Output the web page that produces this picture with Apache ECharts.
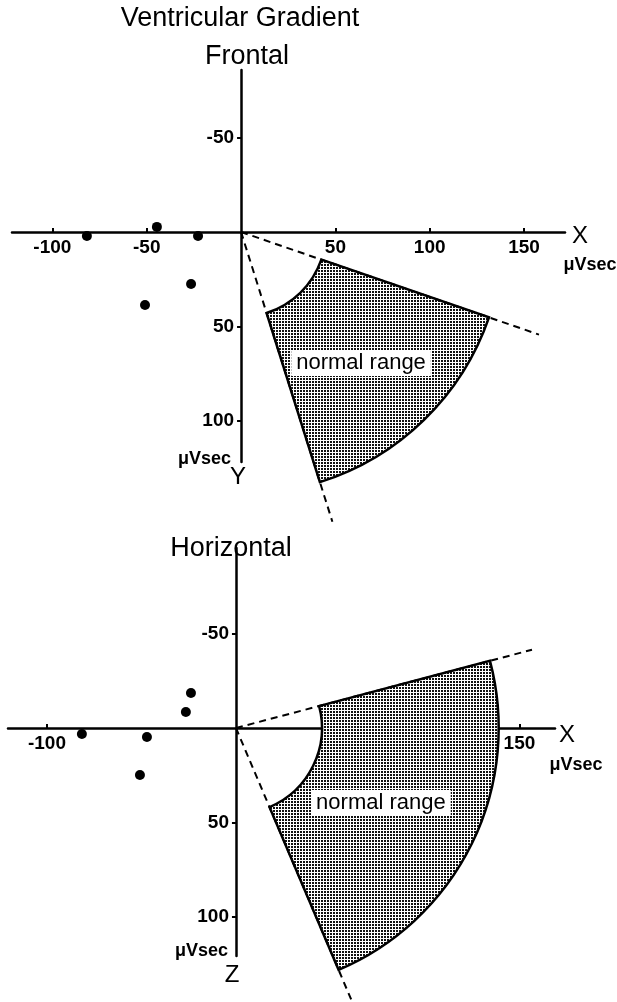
<!DOCTYPE html>
<html>
<head>
<meta charset="utf-8">
<script src="https://cdn.jsdelivr.net/npm/echarts@6/dist/echarts.min.js"></script>
<style>
  html, body { margin: 0; padding: 0; background: #fff; }
  #chart { width: 617px; height: 1002px; }
</style>
</head>
<body>
<div id="chart"></div>
<script>
// ---- data ----
const frontalXTicks = [-100, -50, 50, 100, 150];
const frontalYTicks = [-50, 50, 100];
const horizontalXTicks = [-100, 150];
const horizontalYTicks = [-50, 50, 100];

// frontal plane: X (right), Y (down)
const frontalPoints = [[-44.6, -2.7], [-81.7, 2.1], [-22.8, 2.1], [-26.5, 27.6], [-50.9, 38.7]];
// horizontal plane: X (right), Z (down)
const horizontalPoints = [[-23.8, -18.5], [-26.5, -8.5], [-81.5, 3.2], [-47.1, 4.8], [-50.8, 24.9]];

// normal range: [inner radius, outer radius, start angle deg, end angle deg] (angle measured toward +Y/+Z)
const frontalRange = [45, 139, 19, 72.5];
const horizontalRange = [45.5, 139, -14.8, 67];
// dashed boundary rays: lengths along start / end angle
const frontalRays = [167, 161];
const horizontalRays = [162, 156];
// "normal range" label anchor
const frontalLabelAt = [63.6, 69.4];
const horizontalLabelAt = [76.7, 39.7];

// ---- drawing ----
const FONT = '"Liberation Sans", Arial, sans-serif';

const pat = document.createElement('canvas');
pat.width = 3; pat.height = 3;
const pctx = pat.getContext('2d');
pctx.fillStyle = '#fff'; pctx.fillRect(0, 0, 3, 3);
pctx.fillStyle = '#111'; pctx.fillRect(0, 0, 2, 2);

function makeRangeRender(range, rays, labelAt) {
  return function (params, api) {
    const o = api.coord([0, 0]);
    const r0 = api.size([range[0], 0])[0];
    const r = api.size([range[1], 0])[0];
    const a1 = range[2] * Math.PI / 180;
    const a2 = range[3] * Math.PI / 180;
    const e1 = api.coord([rays[0] * Math.cos(a1), rays[0] * Math.sin(a1)]);
    const e2 = api.coord([rays[1] * Math.cos(a2), rays[1] * Math.sin(a2)]);
    const lp = api.coord(labelAt);
    const dash = { stroke: '#000', lineWidth: 2, lineDash: [7, 5], fill: null };
    return {
      type: 'group',
      children: [
        { type: 'line', shape: { x1: o[0], y1: o[1], x2: e1[0], y2: e1[1] }, style: dash },
        { type: 'line', shape: { x1: o[0], y1: o[1], x2: e2[0], y2: e2[1] }, style: dash },
        {
          type: 'sector',
          shape: { cx: o[0], cy: o[1], r: r, r0: r0, startAngle: a1, endAngle: a2, clockwise: true },
          style: { fill: { image: pat, repeat: 'repeat' }, stroke: '#000', lineWidth: 2.5 }
        },
        {
          type: 'text',
          x: lp[0], y: lp[1],
          style: {
            text: 'normal range', fill: '#000', font: '22px ' + FONT,
            align: 'center', verticalAlign: 'middle',
            backgroundColor: '#fff', padding: [2, 5, 2, 5]
          }
        }
      ]
    };
  };
}

function xAxisCfg(grid, min, max, ticks) {
  return {
    gridIndex: grid, type: 'value', min: min, max: max,
    splitLine: { show: false },
    axisLine: { onZero: true, lineStyle: { color: '#000', width: 2.5 } },
    axisTick: { show: true, customValues: ticks, length: 4, inside: true, lineStyle: { color: '#000', width: 2 } },
    axisLabel: { show: false }
  };
}
function yAxisCfg(grid, min, max, ticks) {
  return {
    gridIndex: grid, type: 'value', min: min, max: max, inverse: true,
    splitLine: { show: false },
    axisLine: { onZero: true, lineStyle: { color: '#000', width: 2.5 } },
    axisTick: { show: true, customValues: ticks, length: 4, lineStyle: { color: '#000', width: 2 } },
    axisLabel: { show: false }
  };
}

// tick labels placed through the axes' scales
function xLabelSeries(idx, ticks) {
  return {
    type: 'scatter', xAxisIndex: idx, yAxisIndex: idx, symbolSize: 0, silent: true, z: 6,
    itemStyle: { opacity: 1 },
    data: ticks.map(v => [v, 0]),
    label: {
      show: true, position: 'bottom', distance: 6, color: '#000', opacity: 1,
      fontSize: 19, fontWeight: 'bold', fontFamily: FONT,
      formatter: p => String(p.value[0])
    }
  };
}
function yLabelSeries(idx, ticks) {
  return {
    type: 'scatter', xAxisIndex: idx, yAxisIndex: idx, symbolSize: 0, silent: true, z: 6,
    itemStyle: { opacity: 1 },
    data: ticks.map(v => [0, v]),
    label: {
      show: true, position: 'left', distance: 7, color: '#000', opacity: 1,
      fontSize: 19, fontWeight: 'bold', fontFamily: FONT,
      formatter: p => String(p.value[1])
    }
  };
}

function txt(x, y, s, size, align, weight) {
  return {
    type: 'text', x: x, y: y,
    style: {
      text: s, fill: '#000', font: (weight || 'normal') + ' ' + size + 'px ' + FONT,
      align: align || 'center', verticalAlign: 'middle'
    }
  };
}

const chart = echarts.init(document.getElementById('chart'), null, { renderer: 'canvas' });
chart.setOption({
  animation: false,
  backgroundColor: '#fff',
  grid: [
    { left: 12, width: 553, top: 70, height: 392, outerBoundsMode: 'none', containLabel: false },
    { left: 8, width: 547, top: 548, height: 408, outerBoundsMode: 'none', containLabel: false }
  ],
  xAxis: [
    xAxisCfg(0, -121.4, 171.7, frontalXTicks),
    xAxisCfg(1, -120.6, 168.8, horizontalXTicks)
  ],
  yAxis: [
    yAxisCfg(0, -85.85, 121.9, frontalYTicks),
    yAxisCfg(1, -95.2, 120.6, horizontalYTicks)
  ],
  series: [
    {
      type: 'custom', xAxisIndex: 0, yAxisIndex: 0, data: [[0, 0]], z: 1,
      renderItem: makeRangeRender(frontalRange, frontalRays, frontalLabelAt)
    },
    {
      type: 'custom', xAxisIndex: 1, yAxisIndex: 1, data: [[0, 0]], z: 1,
      renderItem: makeRangeRender(horizontalRange, horizontalRays, horizontalLabelAt)
    },
    {
      type: 'scatter', xAxisIndex: 0, yAxisIndex: 0, data: frontalPoints,
      symbol: 'circle', symbolSize: 10, itemStyle: { color: '#000', opacity: 1 }, z: 5
    },
    {
      type: 'scatter', xAxisIndex: 1, yAxisIndex: 1, data: horizontalPoints,
      symbol: 'circle', symbolSize: 10, itemStyle: { color: '#000', opacity: 1 }, z: 5
    },
    xLabelSeries(0, frontalXTicks),
    yLabelSeries(0, frontalYTicks),
    xLabelSeries(1, horizontalXTicks),
    yLabelSeries(1, horizontalYTicks)
  ],
  graphic: [
    txt(240, 19, 'Ventricular Gradient', 27),
    txt(247, 57, 'Frontal', 27),
    txt(231, 549, 'Horizontal', 27),
    txt(580, 236, 'X', 24),
    txt(590, 265, 'μVsec', 18, 'center', 'bold'),
    txt(238, 477, 'Y', 24),
    txt(231, 459, 'μVsec', 18, 'right', 'bold'),
    txt(567, 735, 'X', 24),
    txt(576, 765, 'μVsec', 18, 'center', 'bold'),
    txt(232, 975, 'Z', 24),
    txt(228, 951, 'μVsec', 18, 'right', 'bold')
  ]
});
</script>
</body>
</html>
